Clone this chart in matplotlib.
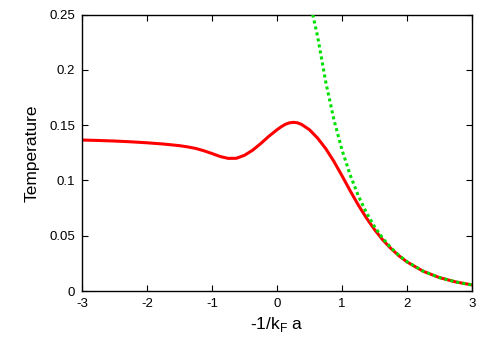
import matplotlib
matplotlib.use('Agg')
import matplotlib.pyplot as plt

## valores
x_red=[-3.0,-2.75,-2.5,-2.25,-2.0,-1.75,-1.5,-1.375,-1.25,-1.125,-1.0,-0.875,-0.75,-0.625,-0.5,-0.375,-0.25,-0.125,
	0.0,0.0625,0.125,0.1875,0.25,0.3125,0.375,0.5,0.625,0.75,0.875,1.0,1.125,1.25,1.375,1.5,1.625,1.75,1.875,2.0,2.25,2.5,2.75,3.0]
t_red=[0.1365,0.1361,0.1356,0.1349,0.1340,0.1329,0.1314,0.1303,0.1289,0.1268,0.1243,0.1216,0.1199,0.1200,0.1227,0.1273,0.1333,0.1399,
	0.1458,0.1484,0.1506,0.1520,0.1525,0.1521,0.1507,0.1458,0.1382,0.1287,0.1172,0.1042,0.0907,0.0778,0.0661,0.0556,0.0463,0.0386,0.0319,0.0263,0.0178,0.0121,0.0082,0.0055]

x_bcs=[0.55,0.625,0.75,0.875,1.0,1.125,1.25,1.375,1.5,1.625,1.75,1.875,2.0,2.25,2.5,2.75,3.0]
t_bcs=[0.250,0.230,0.189,0.155,0.1276,0.105,0.0862,0.0708,0.0582,0.0478,0.0393,0.0323,0.0265,0.0179,0.0121,0.0082,0.0055]

xticks=[-3,-2,-1,0,1,2,3]
yticks=[0,0.05,0.1,0.15,0.2,0.25]
ytlab=['0','0.05','0.1','0.15','0.2','0.25']

plt.rcParams['font.family']=['Liberation Sans','DejaVu Sans']
fig=plt.figure(figsize=(4.91,3.43),dpi=100)
ax=fig.add_axes([82/491,1-291/343,390/491,(291-14.5)/343])

ax.plot(x_red,t_red,'-',color='#ff0000',lw=2.2,zorder=2,solid_joinstyle='round')
ax.plot(x_bcs,t_bcs,color='#00e000',lw=2.2,ls=(0,(1,1)),zorder=3)

ax.set_xlim(-3,3)
ax.set_ylim(0,0.25)
ax.set_xticks(xticks)
ax.set_xticklabels([str(i) for i in xticks])
ax.set_yticks(yticks)
ax.set_yticklabels(ytlab)
ax.tick_params(direction='in',top=True,right=True,length=4,width=0.8,labelsize=9.5,pad=5)
for s in ax.spines.values():
	s.set_linewidth(1.0)
ax.set_xlabel('-1/k$_\\mathregular{F}$ a',fontsize=12.5,labelpad=4)
ax.set_ylabel('Temperature',fontsize=12.5,labelpad=7)

fig.savefig('out.png',dpi=100)
